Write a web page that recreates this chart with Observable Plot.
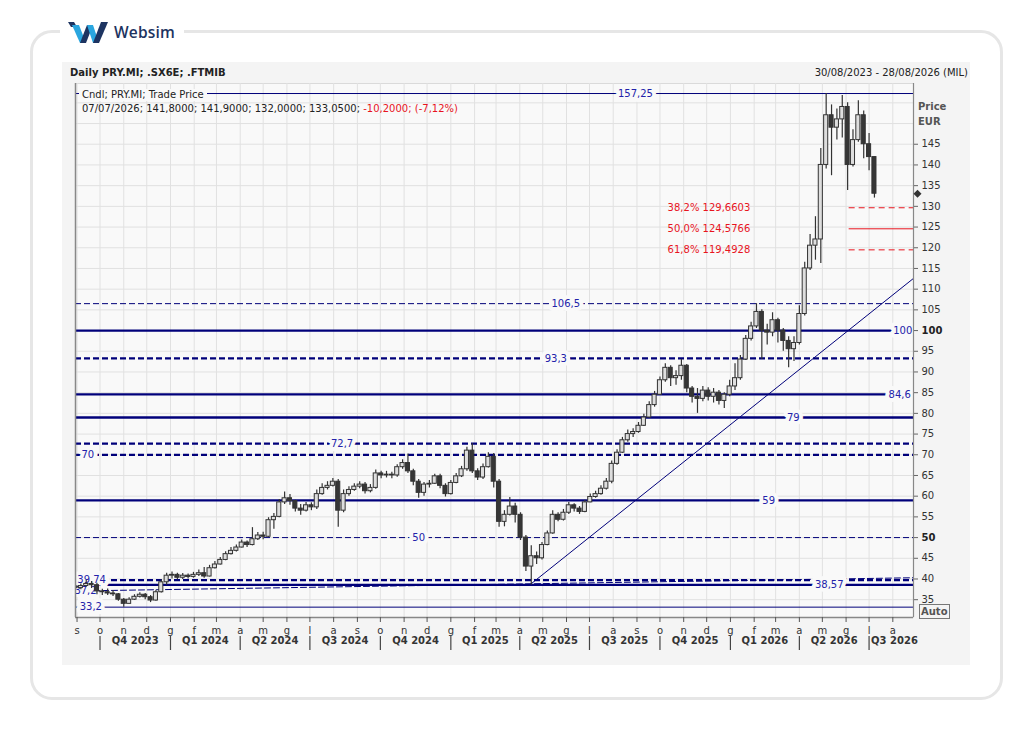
<!DOCTYPE html>
<html><head><meta charset="utf-8">
<script src="https://cdn.jsdelivr.net/npm/d3@7"></script>
<script src="https://cdn.jsdelivr.net/npm/@observablehq/plot@0.6"></script>
<style>
body{margin:0;background:#fff;width:1034px;height:730px;position:relative;overflow:hidden;font-family:"DejaVu Sans",sans-serif;}
.card{position:absolute;left:30px;top:30px;width:967px;height:664px;border:3px solid #e6e6e6;border-radius:22px;}
.logo{position:absolute;left:60px;top:16px;width:124px;height:32px;background:#fff;}
.logo svg{position:absolute;left:8px;top:6px;}
.logo span{position:absolute;left:54px;top:5px;font-family:"Open Sans",sans-serif;font-size:15.5px;font-weight:600;color:#1d3461;letter-spacing:0.2px;}
.panel{position:absolute;left:62px;top:62px;width:908px;height:603px;background:#f4f4f4;}
#chart{position:absolute;left:62px;top:80px;}
.abs{position:absolute;font-size:10px;line-height:12px;white-space:nowrap;color:#222;}
</style></head>
<body>
<div class="card"></div>
<div class="logo">
<svg width="42" height="22" viewBox="0 0 42 22">
<polygon points="0,0 6,0 9,5 3,5" fill="#1d3461"/>
<polygon points="4,3 11,3 18,21 12,21" fill="#2aa6df"/>
<polygon points="12,21 18,21 25,3 19,3" fill="#1d3461"/>
<polygon points="19,3 25,3 31,21 25,21" fill="#2aa6df"/>
<polygon points="25,21 31,21 40,0 33,0" fill="#1d3461"/>
</svg>
<span>Websim</span>
</div>
<div class="panel"></div>
<div class="abs" style="left:70px;top:67px;font-weight:bold;">Daily PRY.MI; .SX6E; .FTMIB</div>
<div class="abs" style="right:66px;top:67px;">30/08/2023 - 28/08/2026 (MIL)</div>
<div id="chart"></div>
<div class="abs" style="left:79px;top:89px;background:#f9f9f9;padding:0 3px;">Cndl; PRY.MI; Trade Price</div>
<div class="abs" style="left:82px;top:103px;">07/07/2026; 141,8000; 141,9000; 132,0000; 133,0500; <span style="color:#e8141e">-10,2000; (-7,12%)</span></div>
<div class="abs" style="left:918px;top:101px;font-weight:bold;color:#555;">Price</div>
<div class="abs" style="left:918px;top:116px;font-weight:bold;color:#555;">EUR</div>
<div class="abs" style="left:919px;top:604px;font-weight:bold;color:#555;border:1px solid #777;padding:0 1px;line-height:13px;">Auto</div>
<script>
// ---- data ----
const firstOpen = 38.2;
const closes = [
37.8, 38.3, 38.8, 38.5, 37.0, 36.8, 36.5, 36.3, 35.0, 34.0,
35.0, 35.7, 36.2, 35.6, 34.8, 36.8, 39.2, 40.8, 41.0, 40.3,
40.8, 40.5, 41.0, 41.4, 40.6, 42.6, 43.5, 44.6, 46.0, 46.8,
47.6, 48.8, 48.2, 49.6, 50.5, 50.2, 54.2, 55.0, 58.5, 59.5,
58.8, 57.0, 56.5, 57.8, 57.3, 60.5, 62.0, 62.5, 63.5, 56.5,
60.5, 61.5, 62.3, 62.8, 61.2, 62.0, 65.5, 65.0, 65.2, 65.0,
67.0, 68.0, 66.0, 63.5, 60.8, 62.8, 63.0, 64.8, 62.5, 60.5,
63.2, 64.8, 66.5, 71.0, 66.0, 64.5, 67.0, 69.5, 63.5, 53.8,
55.5, 57.5, 55.5, 50.0, 43.0, 45.5, 45.0, 48.2, 51.0, 55.5,
54.3, 56.0, 57.8, 57.0, 56.2, 58.5, 59.8, 60.5, 61.8, 63.5,
67.8, 70.5, 73.5, 75.0, 75.5, 77.0, 79.0, 82.0, 84.5, 88.0,
91.0, 88.5, 89.0, 91.5, 86.0, 84.0, 83.5, 85.5, 84.0, 85.0,
83.0, 84.5, 86.5, 88.5, 93.0, 98.0, 101.0, 104.5, 100.0, 99.5,
102.5, 100.0, 97.5, 95.5, 97.0, 104.0, 115.0, 120.5, 122.0, 140.0,
152.0, 149.0, 151.0, 154.0, 140.0, 146.0, 152.0, 145.0, 141.9, 133.05
];
const highs = [
38.5, 38.8, 39.7, 39.4, 39.0, 37.5, 37.6, 37.2, 36.5, 35.3,
35.5, 36.2, 36.7, 36.5, 36.0, 37.3, 39.8, 41.4, 41.7, 41.4,
41.3, 41.2, 41.6, 42.2, 42.8, 43.3, 44.2, 45.2, 46.6, 47.6,
48.2, 49.4, 49.2, 52.4, 51.2, 51.3, 54.8, 55.8, 59.2, 61.0,
60.4, 59.0, 58.0, 58.5, 58.4, 61.5, 63.0, 63.5, 64.3, 64.0,
61.5, 62.3, 63.0, 63.5, 63.3, 62.8, 66.3, 66.0, 66.0, 65.8,
67.6, 68.8, 70.2, 66.5, 64.0, 63.3, 63.8, 65.3, 65.3, 63.0,
63.8, 65.5, 67.2, 71.8, 72.7, 66.6, 67.8, 70.5, 70.3, 64.0,
56.5, 59.7, 58.3, 56.0, 50.5, 48.0, 46.5, 48.8, 51.6, 56.5,
56.0, 56.8, 58.5, 58.2, 57.5, 59.0, 60.5, 61.2, 62.5, 64.3,
68.5, 71.2, 74.2, 76.0, 76.3, 77.8, 79.8, 82.8, 85.3, 88.8,
92.0, 91.5, 90.3, 93.0, 91.8, 86.5, 86.0, 86.5, 86.2, 86.0,
85.5, 85.0, 88.0, 92.0, 94.0, 98.8, 102.0, 106.5, 105.0, 101.5,
104.3, 103.0, 100.5, 98.5, 98.5, 106.0, 116.5, 123.2, 127.5, 144.0,
157.25, 154.5, 153.5, 156.8, 155.0, 148.5, 155.5, 153.0, 147.6, 141.9
];
const lows = [
37.2, 37.4, 38.0, 37.7, 36.2, 36.0, 36.0, 35.8, 34.6, 33.2,
34.0, 34.8, 35.4, 35.0, 34.3, 34.6, 36.6, 38.5, 40.0, 39.8,
39.9, 40.0, 40.2, 40.6, 40.2, 40.5, 42.4, 43.4, 44.4, 45.8,
46.5, 47.5, 47.6, 48.0, 49.3, 49.5, 50.0, 52.0, 54.8, 58.0,
57.8, 56.2, 55.4, 56.2, 56.5, 56.8, 60.2, 61.5, 62.2, 52.5,
56.0, 60.0, 61.2, 61.8, 60.5, 60.8, 61.7, 64.2, 64.4, 64.2,
64.6, 66.5, 65.5, 62.5, 59.5, 60.0, 62.0, 62.8, 61.8, 59.8,
60.3, 63.0, 64.5, 66.0, 65.5, 63.8, 64.0, 66.8, 62.0, 52.5,
52.6, 55.2, 53.5, 49.3, 41.8, 38.57, 43.5, 44.6, 48.0, 50.8,
53.8, 54.0, 55.6, 56.2, 55.6, 56.0, 58.4, 59.5, 60.2, 61.5,
63.0, 67.5, 70.3, 73.0, 74.2, 75.2, 76.8, 78.8, 81.5, 84.3,
87.5, 86.5, 86.8, 88.0, 85.0, 82.5, 80.0, 82.8, 83.0, 82.5,
82.0, 81.2, 84.0, 85.5, 88.0, 92.8, 97.5, 100.5, 93.0, 96.5,
98.5, 97.0, 95.0, 91.0, 92.5, 96.5, 103.5, 114.5, 117.0, 116.2,
139.0, 137.4, 146.0, 146.5, 133.8, 139.5, 145.5, 141.5, 138.6, 132.0
];
const lastClose = 133.05;

// horizontal levels
const levelValues = [157.25, 106.5, 100, 93.3, 84.6, 79, 72.7, 70, 59, 50, 39.74, 38.57, 33.2];
const levelLabels = ["157,25", "106,5", "100", "93,3", "84,6", "79", "72,7", "70", "59", "50", "39,74", "38,57", "33,2"];
const levelDashed = [false, true, false, true, false, false, true, true, false, true, true, false, false];
const levelHeavy = [false, false, true, true, true, true, true, true, true, false, true, true, false];
const levelLabelDates = ["2025-08-30", "2025-05-31", "2026-08-14", "2025-05-18", "2026-08-10", "2026-03-24", "2024-08-12", "2023-09-15", "2026-02-20", "2024-11-20", "2023-09-20", "2026-05-10", "2023-09-19"];

// trend lines
const supportDates = ["2023-08-30", "2026-08-28"];
const supportValues = [37.1, 40.3];
const supportLabel = "37,2";
const upDates = ["2025-04-14", "2026-08-28"];
const upValues = [38.57, 112.6];

// fibonacci retracement
const fibValues = [129.6603, 124.5766, 119.4928];
const fibLabels = ["38,2% 129,6603", "50,0% 124,5766", "61,8% 119,4928"];
const fibDashed = [true, false, true];
const fibStart = "2026-06-05";
const fibLabelDate = "2025-10-11";

// axes
const yTicks = [35,40,45,50,55,60,65,70,75,80,85,90,95,100,105,110,115,120,125,130,135,140,145];
const yBold = [50, 100];
const monthLetters = ["g","f","m","a","m","g","l","a","s","o","n","d"];
const quarterLabels = ["Q4 2023","Q1 2024","Q2 2024","Q3 2024","Q4 2024","Q1 2025","Q2 2025","Q3 2025","Q4 2025","Q1 2026","Q2 2026","Q3 2026"];

// ---- build ----
const W = 908, H = 585, MT = 3, MB = 48;
const X0 = new Date("2023-08-30"), X1 = new Date("2026-08-28");
const Y0 = 30.7, Y1 = 159.67;
const pxPerUnit = (H - MT - MB) / (Y1 - Y0);
const navy = "#00007a", labelBlue = "#2222aa", bg = "#f9f9f9", red = "#e8141e";

const weekStarts = d3.utcMonday.range(new Date("2023-08-28"), new Date("2026-07-07"));
const candles = weekStarts.map((w, i) => ({
  mid: d3.utcDay.offset(w, 2),
  open: i === 0 ? firstOpen : closes[i - 1],
  close: closes[i], high: highs[i], low: lows[i]
}));
const levels = levelValues.map((v, i) => ({value: v, label: levelLabels[i], dashed: levelDashed[i], heavy: levelHeavy[i], date: new Date(levelLabelDates[i])}));
const support = supportDates.map((d, i) => ({date: new Date(d), value: supportValues[i]}));
const upTrend = upDates.map((d, i) => ({date: new Date(d), value: upValues[i]}));
const fibs = fibValues.map((v, i) => ({value: v, label: fibLabels[i], dashed: fibDashed[i], s: new Date(fibStart), e: X1, ld: new Date(fibLabelDate)}));
const monthStarts = d3.utcMonth.range(new Date("2023-09-01"), new Date("2026-08-29"));
const quarterStarts = d3.utcMonth.every(3).range(new Date("2023-10-01"), new Date("2026-08-29"));
const quarters = quarterStarts.map((q, i) => ({start: q, mid: new Date((+q + +d3.utcMonth.offset(q, 3)) / 2), label: quarterLabels[i]}));
const gridY = d3.range(35, 160, 5);

const levelMarks = levels.map(l => Plot.ruleY([l], {
  y: "value", stroke: navy,
  strokeWidth: l.heavy ? 2.3 : 1,
  strokeDasharray: l.dashed ? "6,3" : null
}));
const fibMarks = fibs.map(f => Plot.ruleY([f], {y: "value", x1: "s", x2: "e", stroke: red, strokeWidth: 1, strokeDasharray: f.dashed ? "6,4" : null}));

const chart = Plot.plot({
  width: W, height: H,
  marginLeft: 13, marginRight: 57, marginTop: MT, marginBottom: MB,
  x: {type: "utc", domain: [X0, X1]},
  y: {domain: [Y0, Y1]},
  style: {background: "transparent", fontFamily: "DejaVu Sans, sans-serif", fontSize: "10px", overflow: "visible", color: "#333"},
  marks: [
    Plot.frame({fill: bg, stroke: "#dadada"}),
    Plot.ruleX(monthStarts, {stroke: "#e1e1e1"}),
    Plot.ruleY(gridY, {stroke: "#e1e1e1"}),
    ...levelMarks,
    Plot.line(support, {x: "date", y: "value", stroke: navy, strokeWidth: 1, strokeDasharray: "6,3"}),
    Plot.text(levels, {x: "date", y: "value", text: "label", fill: labelBlue, stroke: bg, strokeWidth: 8, fontSize: 10}),
    Plot.text([support[0]], {x: "date", y: "value", text: () => supportLabel, dx: 10, fill: labelBlue, stroke: bg, strokeWidth: 6, fontSize: 10}),
    Plot.line(upTrend, {x: "date", y: "value", stroke: navy, strokeWidth: 1, clip: true}),
    Plot.ruleX(candles, {x: "mid", y1: "low", y2: "high", stroke: "#333", strokeWidth: 1.2, clip: true}),
    Plot.rect(candles, {
      x1: d => d3.utcHour.offset(d.mid, -64), x2: d => d3.utcHour.offset(d.mid, 64),
      y1: "open", y2: "close",
      fill: d => d.close >= d.open ? "#dedede" : "#363636",
      stroke: "#333", strokeWidth: 1, clip: true
    }),
    ...fibMarks,
    Plot.text(fibs, {x: "ld", y: "value", text: "label", textAnchor: "start", fill: red, fontSize: 10}),
    Plot.ruleX([X0], {stroke: "#888", strokeWidth: 1.5}),
    Plot.ruleX([X1], {stroke: "#888", strokeWidth: 1.2}),
    Plot.ruleY([Y0], {stroke: "#888", strokeWidth: 1.5}),
    Plot.axisY(yTicks, {anchor: "right", tickSize: 4, tickFormat: () => "", label: null, stroke: "#666"}),
    Plot.text(yTicks.filter(t => !yBold.includes(t)), {y: d => d, frameAnchor: "right", dx: 8, textAnchor: "start", text: d => String(d), fill: "#333", fontSize: 10}),
    Plot.text(yBold, {y: d => d, frameAnchor: "right", dx: 8, textAnchor: "start", text: d => String(d), fill: "#222", fontSize: 10, fontWeight: "bold"}),
    Plot.dot([{d: X1, v: lastClose}], {x: "d", y: "v", symbol: "square", rotate: 45, r: 3.2, fill: "#333", dx: 4}),
    Plot.axisX(monthStarts, {anchor: "bottom", tickSize: 5, tickPadding: 4, tickFormat: d => monthLetters[d.getUTCMonth()], label: null, fontSize: 10, fill: "#333", stroke: "#555"}),
    Plot.ruleX(quarterStarts, {x: d => d, y1: Y0 - 19 / pxPerUnit, y2: Y0 - 33 / pxPerUnit, stroke: "#444", strokeWidth: 1.2}),
    Plot.text(quarters.slice(0, -1), {x: "mid", frameAnchor: "bottom", dy: 26, text: "label", fontWeight: "bold", fontSize: 10, fill: "#333"}),
    Plot.text(quarters.slice(-1), {x: "start", frameAnchor: "bottom", dy: 26, dx: 2, textAnchor: "start", text: "label", fontWeight: "bold", fontSize: 10, fill: "#333"})
  ]
});
document.getElementById("chart").appendChild(chart);
</script>
</body></html>
